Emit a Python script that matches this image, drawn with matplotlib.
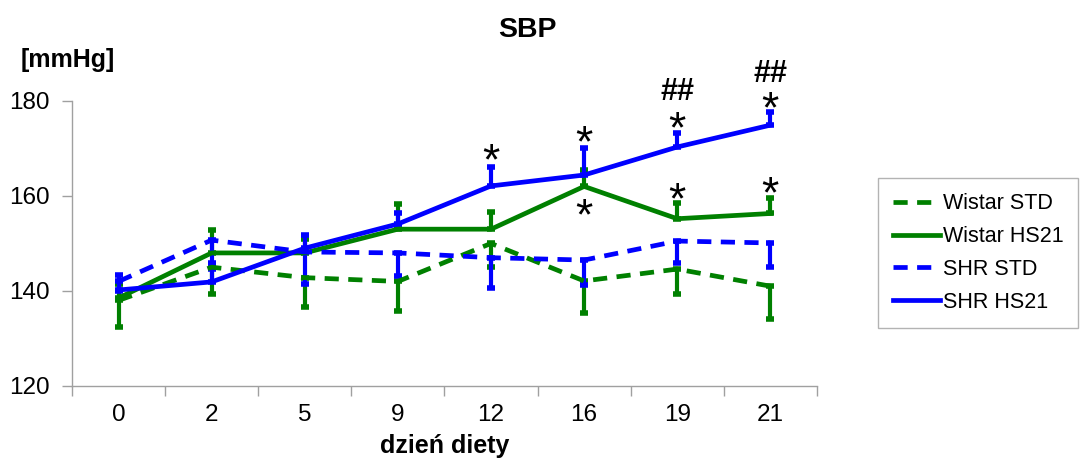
import matplotlib.pyplot as plt
import numpy as np

plt.rcParams['font.family'] = ['Liberation Sans', 'DejaVu Sans']

# dzień diety
days = ['0', '2', '5', '9', '12', '16', '19', '21']

# SBP means [mmHg]
wistar_std = [138.0, 145.0, 142.8, 142.0, 150.0, 142.1, 144.6, 141.0]
wistar_hs21 = [138.5, 148.0, 148.0, 153.0, 153.0, 162.0, 155.2, 156.3]
shr_std = [142.0, 150.7, 148.2, 148.0, 147.0, 146.5, 150.5, 150.1]
shr_hs21 = [140.2, 141.9, 149.0, 154.1, 162.1, 164.4, 170.3, 174.9]

# one-sided error bars (STD down, HS21 up)
wistar_std_err = [5.5, 5.6, 6.1, 6.3, 5.0, 6.7, 5.2, 6.9]
wistar_hs21_err = [3.0, 4.8, 3.0, 5.2, 3.6, 3.5, 3.3, 3.3]
shr_std_err = [2.0, 6.0, 6.7, 4.8, 6.4, 5.2, 4.6, 5.1]
shr_hs21_err = [3.2, 4.0, 2.8, 2.3, 4.0, 5.6, 3.0, 2.8]

# significance marks: (day index, y, text)
marks = [(4, 167.0, '*'), (5, 170.8, '*'), (5, 155.4, '*'),
         (6, 173.6, '*'), (6, 158.8, '*'), (7, 178.0, '*'), (7, 160.1, '*'),
         (6, 181.8, '##'), (7, 185.6, '##')]

green = '#008000'
blue = '#0000ff'

fig = plt.figure(figsize=(10.82, 4.65), dpi=100)
ax = fig.add_axes([0.0665, 0.170, 0.6885, 0.613])
x = np.arange(len(days))
zeros = np.zeros(len(days))

series = [
    (wistar_std, [wistar_std_err, zeros], green, '--', 'Wistar STD'),
    (wistar_hs21, [zeros, wistar_hs21_err], green, '-', 'Wistar HS21'),
    (shr_std, [shr_std_err, zeros], blue, '--', 'SHR STD'),
    (shr_hs21, [zeros, shr_hs21_err], blue, '-', 'SHR HS21'),
]
handles = []
for vals, err, col, ls, lab in series:
    ax.errorbar(x, vals, yerr=err, color=col, ecolor=col, elinewidth=3,
                capsize=3, capthick=4, lw=0, zorder=2)
    h, = ax.plot(x, vals, color=col, ls=ls, lw=3.4, label=lab, zorder=3,
                 dashes=(3, 2) if ls == '--' else (None, None))
    handles.append(h)

for i, yv, t in marks:
    if t == '*':
        ax.text(x[i], yv, t, ha='center', va='center', fontsize=32,
                clip_on=False)
    else:
        ax.text(x[i], yv, t, ha='center', va='center', fontsize=22,
                fontweight='bold', clip_on=False)

ax.set_xlim(-0.5, len(days) - 0.5)
ax.set_ylim(120, 180)
ax.set_yticks([120, 140, 160, 180])
ax.set_xticks(np.arange(len(days) + 1) - 0.5)
ax.set_xticklabels([])
ax.set_xticks(x, minor=True)
ax.set_xticklabels(days, minor=True)
ax.tick_params(axis='x', which='major', length=7, color='#a0a0a0', width=1)
ax.tick_params(axis='x', which='minor', length=0, pad=13, labelsize=17.5)
ax.tick_params(axis='y', length=7, color='#a0a0a0', width=1, labelsize=17.5, pad=9)
for s in ['top', 'right']:
    ax.spines[s].set_visible(False)
for s in ['left', 'bottom']:
    ax.spines[s].set_color('#a0a0a0')
    ax.spines[s].set_linewidth(1)

ax.set_xlabel('dzień diety', fontsize=18, fontweight='bold', labelpad=6)
fig.text(0.487, 0.935, 'SBP', ha='center', va='center', fontsize=20.5, fontweight='bold')
fig.text(0.019, 0.87, '[mmHg]', ha='left', va='center', fontsize=18, fontweight='bold')

leg = fig.legend(handles=handles, loc='center', bbox_to_anchor=(0.904, 0.456),
                 fontsize=15.5, frameon=True, fancybox=False, edgecolor='#a0a0a0',
                 handlelength=2.2, handletextpad=0.1, labelspacing=0.55,
                 borderpad=0.7, borderaxespad=0)
leg.get_frame().set_linewidth(1)

fig.savefig('out.png', dpi=100)
